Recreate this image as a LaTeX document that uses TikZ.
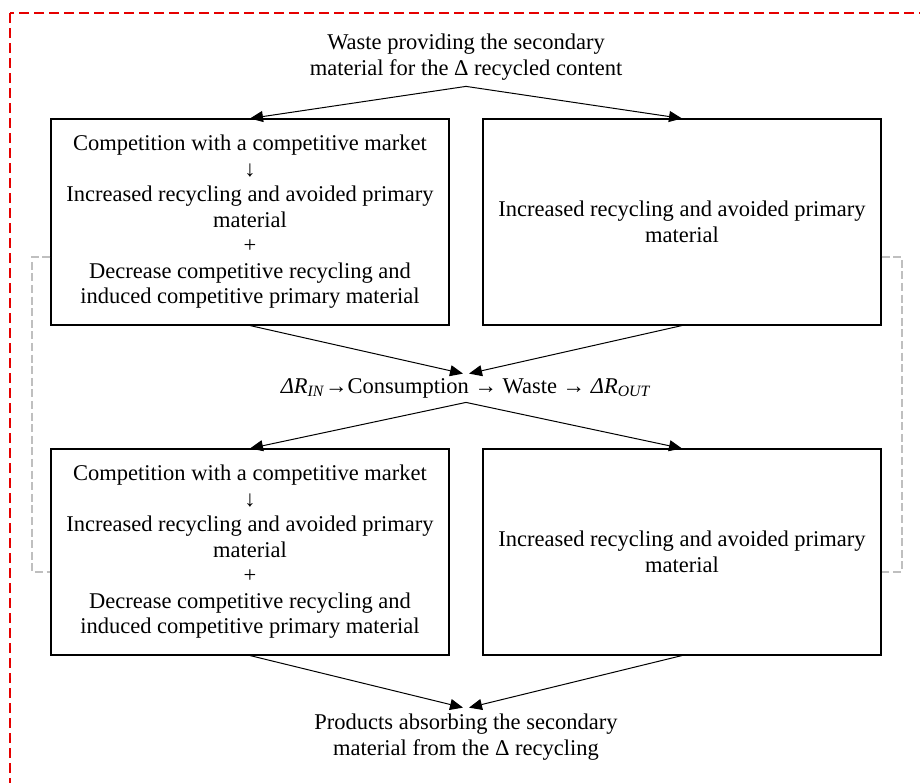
\documentclass[tikz,border=0pt]{standalone}
\usepackage{fontspec}
\setmainfont{Liberation Serif}
\usetikzlibrary{arrows.meta}
\newcommand\dfont{\fontsize{11.25pt}{12.75pt}\selectfont}
\begin{document}
\begin{tikzpicture}[x=0.5pt,y=-0.5pt,
  every node/.style={font=\dfont},
  box/.style={draw, fill=white, line width=0.55pt, minimum width=199pt, minimum height=103pt, align=center, inner sep=0pt},
  lbl/.style={align=center, inner sep=3pt},
  arr/.style={-{Triangle[length=6.5pt,width=5.5pt]}, line width=0.5pt},
  reddash/.style={draw=red!90!black, dash pattern=on 5pt off 2.5pt, line width=0.7pt},
  graydash/.style={draw=black!25, dash pattern=on 4pt off 1.8pt, line width=0.6pt}]
\useasboundingbox (0,0) rectangle (920,782);
\clip (0,0) rectangle (920,782);
\draw[reddash] (10,13) rectangle (960,820);

\node[lbl] (top) at (466,57) {Waste providing the secondary\\material for the Δ recycled content};
\node[box] (tl) at (250,222) {Competition with a competitive market\\↓\\Increased recycling and avoided primary\\material\\+\\Decrease competitive recycling and\\induced competitive primary material};
\node[box] (tr) at (682,222) {Increased recycling and avoided primary\\material};
\node[inner sep=1.5pt, text height=8pt, text depth=3pt] (mid) at (466,388) {\textit{ΔR}\textsubscript{\textit{IN}}→Consumption → Waste → \textit{ΔR}\textsubscript{\textit{OUT}}};
\node[box] (bl) at (250,552) {Competition with a competitive market\\↓\\Increased recycling and avoided primary\\material\\+\\Decrease competitive recycling and\\induced competitive primary material};
\node[box] (br) at (682,552) {Increased recycling and avoided primary\\material};
\node[lbl] (bot) at (466,737) {Products absorbing the secondary\\material from the Δ recycling};

\draw[graydash] (tl.west |- 0,257) -- (32,257) -- (32,572) -- (bl.west |- 0,572);
\draw[graydash] (tr.east |- 0,257) -- (902,257) -- (902,572) -- (br.east |- 0,572);

\draw[arr] (top.south) -- (tl.north);
\draw[arr] (top.south) -- (tr.north);
\draw[arr] (tl.south) -- ([xshift=-1.5pt]mid.north);
\draw[arr] (tr.south) -- ([xshift=1.5pt]mid.north);
\draw[arr] (mid.south) -- (bl.north);
\draw[arr] (mid.south) -- (br.north);
\draw[arr] (bl.south) -- ([xshift=-1.5pt]bot.north);
\draw[arr] (br.south) -- ([xshift=1.5pt]bot.north);
\end{tikzpicture}
\end{document}
